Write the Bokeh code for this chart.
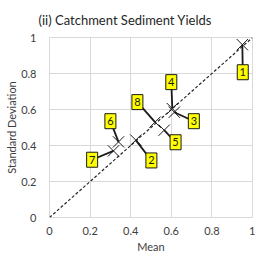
from bokeh.plotting import figure
from bokeh.models import FixedTicker, Range1d, ColumnDataSource
from bokeh.embed import file_html
from bokeh.resources import INLINE

# data
ids = ["1", "2", "3", "4", "5", "6", "7", "8"]
mean = [0.95, 0.425, 0.615, 0.605, 0.565, 0.34, 0.315, 0.52]
std = [0.96, 0.43, 0.585, 0.605, 0.485, 0.42, 0.37, 0.53]
label_x = [0.952, 0.502, 0.711, 0.600, 0.621, 0.300, 0.210, 0.433]
label_y = [0.807, 0.317, 0.535, 0.752, 0.418, 0.535, 0.321, 0.641]
ticks = [0, 0.2, 0.4, 0.6, 0.8, 1]
tick_labels = ["0", "0.2", "0.4", "0.6", "0.8", "1"]
line_x = [0, 1]
line_y = [0, 1]

FONT = "Lato"

p = figure(output_backend="svg", toolbar_location=None,
           frame_width=203, frame_height=180,
           min_border_left=49, min_border_right=3,
           min_border_top=37, min_border_bottom=30,
           x_range=Range1d(0, 1), y_range=Range1d(0, 1),
           title="(ii) Catchment Sediment Yields")

p.title.text_font = FONT
p.title.text_font_size = "13px"
p.title.text_font_style = "normal"
p.title.text_color = "#262626"
p.title.align = "left"
p.title.offset = -11
p.title.standoff = 19

for ax in (p.xaxis, p.yaxis):
    ax.ticker = FixedTicker(ticks=ticks)
    ax.major_label_overrides = {t: l for t, l in zip(ticks, tick_labels)}
    ax.axis_line_color = None
    ax.major_tick_line_color = None
    ax.minor_tick_line_color = None
    ax.major_tick_out = 0
    ax.major_tick_in = 0
    ax.minor_tick_out = 0
    ax.minor_tick_in = 0
    ax.major_label_text_font = FONT
    ax.major_label_text_font_size = "11px"
    ax.major_label_text_color = "#404040"
    ax.axis_label_text_font = FONT
    ax.axis_label_text_font_size = "11px"
    ax.axis_label_text_font_style = "normal"
    ax.axis_label_text_color = "#404040"

p.xaxis.axis_label = "Mean"
p.yaxis.axis_label = "Standard Deviation"
p.xaxis.major_label_standoff = 9
p.yaxis.major_label_standoff = 13
p.xaxis.axis_label_standoff = 2
p.yaxis.axis_label_standoff = 0

p.grid.grid_line_color = "#d9d9d9"
p.grid.grid_line_width = 1
p.xgrid.ticker = FixedTicker(ticks=ticks)
p.ygrid.ticker = FixedTicker(ticks=ticks)
p.outline_line_color = "#d9d9d9"

p.line(line_x, line_y, line_color="#262626", line_dash="3 2", line_width=1.2)

src = ColumnDataSource(dict(ids=ids, mean=mean, std=std, lx=label_x, ly=label_y))
p.segment(x0="mean", y0="std", x1="lx", y1="ly", source=src,
          line_color="#1a1a1a", line_width=1.8)
p.scatter(x="mean", y="std", source=src, marker="x", size=16,
          line_color="#1a1a1a", line_width=1)
p.rect(x="lx", y="ly", width=11, height=15, width_units="screen",
       height_units="screen", source=src, fill_color="#ffff00",
       line_color="#1a1a1a", line_width=1)
p.text(x="lx", y="ly", text="ids", source=src, text_align="center",
       text_baseline="middle", text_font_size="11px", text_color="#1a1a1a",
       text_font={"value": FONT})

open("out.html", "w").write(file_html(p, INLINE))
